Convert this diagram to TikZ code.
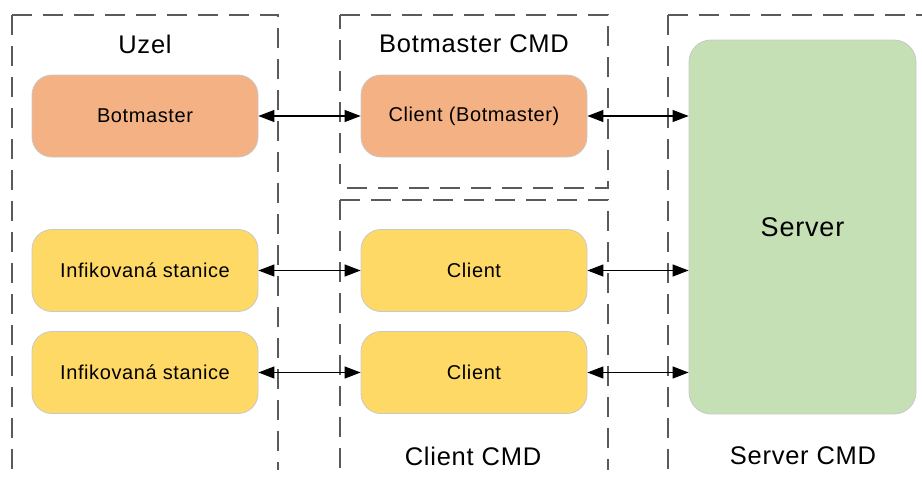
\documentclass[tikz,border=0pt]{standalone}
\usepackage{fontspec}
\setmainfont{Liberation Sans}
\usetikzlibrary{arrows.meta}
\definecolor{bmfill}{HTML}{F4B183}
\definecolor{clfill}{HTML}{FFD966}
\definecolor{svfill}{HTML}{C5E0B4}
\definecolor{boxline}{HTML}{C8C8C8}
\definecolor{frameline}{HTML}{5A5A5A}
\newfontfamily\widefont[LetterSpace=3]{Liberation Sans}
\tikzset{
  unit/.style={draw=boxline, line width=0.8pt, rounded corners=20pt,
    minimum width=226pt, minimum height=82pt, inner sep=0pt,
    font=\widefont\fontsize{20}{24}\selectfont},
  frame/.style={draw=frameline, line width=1.5pt, dash pattern=on 20pt off 11pt},
  zone/.style={font=\widefont\fontsize{25.5}{30}\selectfont, inner sep=0pt},
  link/.style={draw=black, line width=1.2pt,
    {Triangle[length=16pt,width=12pt]}-{Triangle[length=16pt,width=12pt]}}
}
\begin{document}
\begin{tikzpicture}[x=1pt,y=-1pt]
\useasboundingbox (0,0) rectangle (922,477);

% dashed zone frames, each traced from its top left corner
\draw[frame] (12,15) -- (278,15) -- (278,470);
\draw[frame] (12,15) -- (12,470);
\draw[frame] (340,15) -- (608,15) -- (608,188) -- (340,188) -- cycle;
\draw[frame] (340,200) -- (608,200) -- (608,470);
\draw[frame] (340,200) -- (340,470);
\draw[frame] (668,15) -- (922,15);
\draw[frame] (668,15) -- (668,470);

% zone titles
\node[zone] (tUzel) at (145,44) {Uzel};
\node[zone] (tBm) at (474,44) {Botmaster CMD};
\node[zone] (tCl) at (473,456) {Client CMD};
\node[zone] (tSv) at (803,456) {Server CMD};

% units
\node[unit, fill=bmfill] (bm) at (145,116) {Botmaster};
\node[unit, fill=bmfill] (cbm) at (474,116) {Client (Botmaster)};
\node[unit, fill=clfill] (inf1) at (145,270.5) {Infikovaná stanice};
\node[unit, fill=clfill] (cl1) at (474,270.5) {Client};
\node[unit, fill=clfill] (inf2) at (145,372.5) {Infikovaná stanice};
\node[unit, fill=clfill] (cl2) at (474,372.5) {Client};
\node[draw=boxline, line width=0.8pt, rounded corners=22pt, fill=svfill,
  minimum width=227pt, minimum height=374pt, inner sep=0pt,
  font=\widefont\fontsize{27}{32}\selectfont] (sv) at (802.5,227) {Server};

% connections
\draw[link] (bm.east) -- (cbm.west);
\draw[link] (cbm.east) -- (sv.west |- cbm.east);
\draw[link] (inf1.east) -- (cl1.west);
\draw[link] (cl1.east) -- (sv.west |- cl1.east);
\draw[link] (inf2.east) -- (cl2.west);
\draw[link] (cl2.east) -- (sv.west |- cl2.east);
\end{tikzpicture}
\end{document}
